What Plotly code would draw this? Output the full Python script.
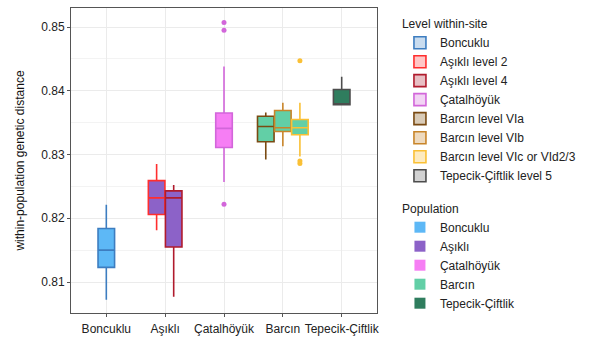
import plotly.graph_objects as go

# ---- data ----
populations = ["Boncuklu", "Aşıklı", "Çatalhöyük", "Barcın", "Tepecik-Çiftlik"]
pop_fill = ["#5DB8F6", "#8C62C8", "#F67EF4", "#62CFA6", "#2F7D5E"]

levels = ["Boncuklu", "Aşıklı level 2", "Aşıklı level 4", "Çatalhöyük",
          "Barcın level VIa", "Barcın level VIb", "Barcın level VIc or VId2/3",
          "Tepecik-Çiftlik level 5"]
level_pop = ["Boncuklu", "Aşıklı", "Aşıklı", "Çatalhöyük",
             "Barcın", "Barcın", "Barcın", "Tepecik-Çiftlik"]
level_color = ["#3D7DC0", "#FF2E2E", "#B01B2D", "#D266DA",
               "#7A4A12", "#C8852A", "#FAC035", "#4D4D4D"]
level_legend_fill = ["#C9DCEF", "#FFC7C7", "#E8BFC4", "#F2D4F4",
                     "#D9CBB7", "#EEDABF", "#FDEBC0", "#D2D2D2"]

lower_w = [0.8072, 0.8181, 0.8077, 0.8257, 0.8292, 0.8313, 0.8297, 0.8378]
q1 =      [0.8123, 0.8206, 0.8155, 0.8311, 0.8320, 0.8336, 0.8331, 0.8378]
median =  [0.8150, 0.8232, 0.8232, 0.8341, 0.8344, 0.8342, 0.8342, 0.8379]
q3 =      [0.8184, 0.8259, 0.8243, 0.8365, 0.8360, 0.8369, 0.8355, 0.8402]
upper_w = [0.8221, 0.8285, 0.8252, 0.8438, 0.8366, 0.8381, 0.8381, 0.8422]
outliers = [[], [], [], [0.8507, 0.8495, 0.8222], [], [], [0.8447, 0.8290, 0.8286], []]

y_ticks = [0.81, 0.82, 0.83, 0.84, 0.85]
y_tick_labels = ["0.81", "0.82", "0.83", "0.84", "0.85"]

# ---- dodge positions (like ggplot position_dodge2) ----
box_w = 0.29
pos = []
for i, lv in enumerate(levels):
    p = level_pop[i]
    same = [j for j, q in enumerate(level_pop) if q == p]
    k = same.index(i)
    n = len(same)
    pos.append(populations.index(p) + (k - (n - 1) / 2) * box_w)

fig = go.Figure()
for i, lv in enumerate(levels):
    fill = pop_fill[populations.index(level_pop[i])]
    fig.add_trace(go.Box(
        x=[pos[i]], q1=[q1[i]], median=[median[i]], q3=[q3[i]],
        lowerfence=[lower_w[i]], upperfence=[upper_w[i]],
        width=box_w * 0.97, whiskerwidth=0,
        fillcolor=fill, line=dict(color=level_color[i], width=1.6),
        name=lv, showlegend=False, boxpoints=False,
        hoverinfo="skip",
    ))
    if outliers[i]:
        fig.add_trace(go.Scatter(
            x=[pos[i]] * len(outliers[i]), y=outliers[i], mode="markers",
            marker=dict(color=level_color[i], size=5), showlegend=False,
            hoverinfo="skip",
        ))

# legend-only entries for the outline colour key
for i, lv in enumerate(levels):
    fig.add_trace(go.Box(
        y=[None], name=lv, legend="legend", showlegend=True,
        fillcolor=level_legend_fill[i], line=dict(color=level_color[i], width=1.6),
        boxpoints=False, hoverinfo="skip",
    ))

for p, c in zip(populations, pop_fill):
    fig.add_trace(go.Scatter(
        x=[None], y=[None], mode="markers", name=p,
        marker=dict(symbol="square", color=c, size=11),
        legend="legend2", showlegend=True,
    ))

font = "Liberation Sans, Arial, sans-serif"
fig.update_layout(
    width=589, height=351,
    margin=dict(l=71, r=203, t=8, b=38),
    paper_bgcolor="white", plot_bgcolor="white",
    font=dict(family=font, size=12, color="#222"),
    boxmode="overlay",
    xaxis=dict(
        range=[-0.6, 4.6], tickmode="array", tickvals=list(range(len(populations))),
        ticktext=populations, showgrid=True, gridcolor="#EBEBEB", gridwidth=1,
        zeroline=False, showline=True, mirror=True, linecolor="#555", linewidth=1,
        ticks="outside", ticklen=3, tickcolor="#555", ticklabelstandoff=2,
        tickfont=dict(size=12, color="#222"),
    ),
    yaxis=dict(
        range=[0.80514, 0.85298], tickmode="array", tickvals=y_ticks,
        ticktext=y_tick_labels, showgrid=True, gridcolor="#EBEBEB", gridwidth=1,
        minor=dict(dtick=0.005, tick0=0.805, showgrid=True, gridcolor="#F3F3F3", gridwidth=1),
        zeroline=False, showline=True, mirror=True, linecolor="#555", linewidth=1,
        ticks="outside", ticklen=3, tickcolor="#555",
        tickfont=dict(size=12, color="#222"),
        title=dict(text="within-population genetic distance", font=dict(size=12, color="#111"), standoff=14),
    ),
    legend=dict(
        title=dict(text="Level within-site", font=dict(size=12)),
        x=1.075, y=0.985, xanchor="left", yanchor="top",
        font=dict(size=12), tracegroupgap=0, bgcolor="rgba(0,0,0,0)",
    ),
    legend2=dict(
        title=dict(text="Population", font=dict(size=12)),
        x=1.075, y=0.38, xanchor="left", yanchor="top",
        font=dict(size=12), tracegroupgap=0, bgcolor="rgba(0,0,0,0)",
    ),
)

fig.write_html("out.html")
